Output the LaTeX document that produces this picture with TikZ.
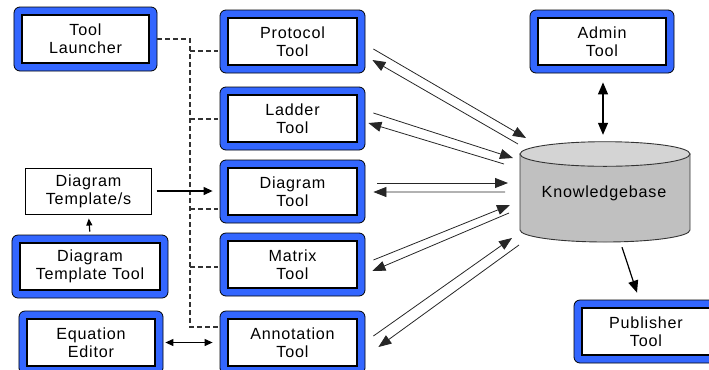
\documentclass[tikz,border=0pt]{standalone}
\usepackage{fontspec}
\setmainfont{Liberation Sans}
\usetikzlibrary{arrows.meta,calc}
\definecolor{toolblue}{RGB}{51,102,255}
\definecolor{kbgray}{RGB}{192,192,192}
\definecolor{kbtop}{RGB}{212,212,212}
\definecolor{dashgray}{RGB}{50,50,50}
\begin{document}
\begin{tikzpicture}[x=1bp,y=-1bp,
  lbl/.style={font=\fontsize{16.2pt}{18pt}\selectfont\addfontfeature{LetterSpace=5}, align=center},
  tool/.style={lbl, rectangle, rounded corners=6bp, draw=black, line width=0.8bp, fill=toolblue,
    minimum width=145bp, minimum height=63bp, inner sep=0pt,
    path picture={\draw[sharp corners, fill=white, line width=1.1bp]
      ([shift={(8bp,-8bp)}]path picture bounding box.north west) rectangle
      ([shift={(-8bp,8bp)}]path picture bounding box.south east);}},
  plain/.style={lbl, rectangle, draw=black, line width=1bp, fill=white, inner sep=0pt},
  kbarr/.style={line width=0.8bp, draw=black!85, -{Triangle[length=13bp,width=10bp]}},
  dashline/.style={line width=1.2bp, draw=dashgray, dash pattern=on 5bp off 3bp},
  bigarr/.style={line width=1.2bp, {Triangle[length=12bp,width=10bp]}-{Triangle[length=12bp,width=10bp]}},
]
\useasboundingbox (0,0) rectangle (709,369);
\clip (0,0) rectangle (709,369);

% tool boxes
\node[tool, minimum width=143bp, minimum height=64bp] (launcher) at (85.5,39) {Tool\\Launcher};
\node[tool] (protocol) at (292.5,41.5) {Protocol\\Tool};
\node[tool] (ladder) at (292.5,118.5) {Ladder\\Tool};
\node[tool] (diagram) at (292.5,191.5) {Diagram\\Tool};
\node[tool] (matrix) at (292.5,264.5) {Matrix\\Tool};
\node[tool] (annotation) at (292.5,342.5) {Annotation\\Tool};
\node[tool, minimum width=144bp] (admin) at (602,41.5) {Admin\\Tool};
\node[tool, minimum width=144bp] (publisher) at (646,331.5) {Publisher\\Tool};
\node[tool, minimum width=156bp] (dtt) at (90,266.5) {Diagram\\Template Tool};
\node[tool, minimum width=144bp] (equation) at (91,342.5) {Equation\\Editor};
\node[plain, minimum width=125bp, minimum height=46bp] (template) at (88.5,191) {Diagram\\Template/s};

% knowledgebase cylinder
\draw[fill=kbgray, draw=black!80, line width=0.9bp]
  (520,154) -- (520,230) arc[start angle=180, end angle=360, x radius=85bp, y radius=12bp]
  -- (690,154) -- cycle;
\draw[fill=kbtop, draw=black!80, line width=0.9bp] (605,154) ellipse [x radius=85bp, y radius=12.3bp];
\node[lbl, minimum width=170bp, minimum height=100bp, inner sep=0pt] (kb) at (604,193) {Knowledgebase};

% dashed launcher connections
\coordinate (trunk) at (190,0);
\coordinate (bp1) at ([shift={(-2,9.5)}]protocol.west);
\coordinate (bp2) at ([shift={(-2,0.5)}]ladder.west);
\coordinate (bp3) at ([shift={(-2,17.5)}]diagram.west);
\coordinate (bp4) at ([shift={(-2,2.5)}]matrix.west);
\coordinate (bp5) at ([shift={(-2,-15.5)}]annotation.west);
\draw[dashline] (launcher.east) -| (trunk |- bp5) -- (bp5);
\draw[dashline] (trunk |- bp1) -- (bp1);
\draw[dashline] (trunk |- bp2) -- (bp2);
\draw[dashline] (trunk |- bp3) -- (bp3);
\draw[dashline] (trunk |- bp4) -- (bp4);

% left side arrows
\draw[line width=1.2bp, -{Triangle[length=9bp,width=8bp]}, shorten <=5bp, shorten >=7bp]
  (template.east) -- (template.east -| diagram.west);
\draw[line width=1.2bp, -{Triangle[length=7bp,width=6bp]}, shorten <=3bp, shorten >=4bp]
  (dtt.north) -- (template.south);
\draw[line width=1.2bp, {Triangle[length=8bp,width=7bp]}-{Triangle[length=8bp,width=7bp]}, shorten <=2bp, shorten >=7bp]
  (equation.east) -- (equation.east -| annotation.west);

% knowledgebase arrows
\draw[kbarr] ([shift={(8,7.5)}]protocol.east) -- ([shift={(-78,-55)}]kb.center);
\draw[kbarr] ([shift={(-86,-49)}]kb.center) -- ([shift={(7,18.5)}]protocol.east);
\draw[kbarr] ([shift={(8,-5.5)}]ladder.east) -- ([shift={(-91,-35)}]kb.center);
\draw[kbarr] ([shift={(-100,-29)}]kb.center) -- ([shift={(3,4.5)}]ladder.east);
\draw[kbarr] ([shift={(12,-8.5)}]diagram.east) -- ([shift={(-96,-10)}]kb.center);
\draw[kbarr] ([shift={(-99,-1)}]kb.center) -- ([shift={(8,0.5)}]diagram.east);
\draw[kbarr] ([shift={(8,-4.5)}]matrix.east) -- ([shift={(-94,12)}]kb.center);
\draw[kbarr] ([shift={(-95,20)}]kb.center) -- ([shift={(7,6.5)}]matrix.east);
\draw[kbarr] ([shift={(8,-6.5)}]annotation.east) -- ([shift={(-92,45)}]kb.center);
\draw[kbarr] ([shift={(-85,52)}]kb.center) -- ([shift={(13,4.5)}]annotation.east);

\draw[bigarr] ([shift={(1,9)}]admin.south) -- ([shift={(-1,-8)}]kb.north);
\draw[line width=1.2bp, -{Triangle[length=12bp,width=10bp]}]
  ([shift={(18,4)}]kb.south) -- ([shift={(-9,-7)}]publisher.north);
\end{tikzpicture}
\end{document}
